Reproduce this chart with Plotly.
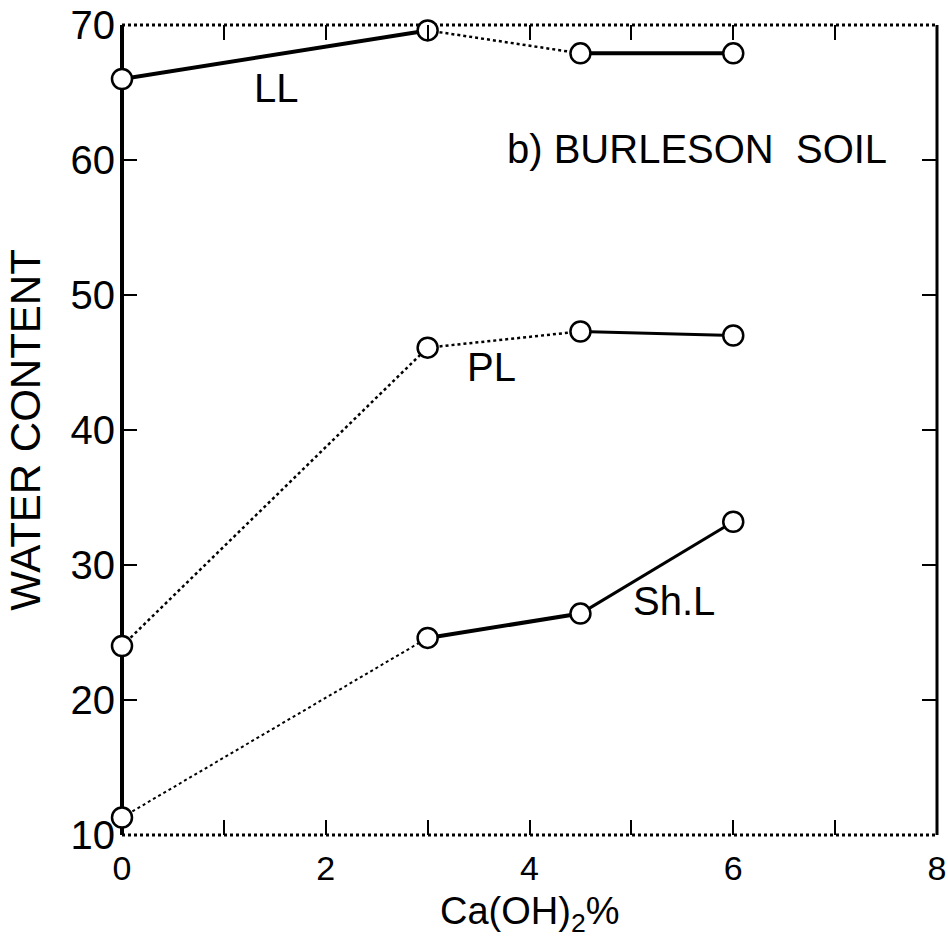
import plotly.graph_objects as go

# Lime content (Ca(OH)2 %) and the three consistency limits
lime_pct = [0, 3, 4.5, 6]
liquid_limit = [66.0, 69.6, 67.9, 67.9]
plastic_limit = [24.0, 46.1, 47.3, 47.0]
shrinkage_limit = [11.3, 24.6, 26.4, 33.2]

x_tick_vals = [0, 2, 4, 6, 8]
y_tick_vals = [10, 20, 30, 40, 50, 60, 70]

series_names = ["LL", "PL", "Sh.L"]
series_values = [liquid_limit, plastic_limit, shrinkage_limit]

# line style of each segment between consecutive points (dash, width)
segment_styles = [
    [("solid", 4), ("dot", 2.5), ("solid", 4)],
    [("dot", 2.5), ("dot", 2.5), ("solid", 3)],
    [("dot", 2), ("solid", 4), ("solid", 3)],
]

# label placement for each curve (data coordinates)
label_pos = [(1.52, 65.3), (3.63, 44.7), (5.42, 27.3)]

FONT = "Liberation Sans, Arial, sans-serif"

fig = go.Figure()

for values, styles in zip(series_values, segment_styles):
    for i, (dash, width) in enumerate(styles):
        fig.add_trace(go.Scatter(
            x=lime_pct[i:i + 2], y=values[i:i + 2], mode="lines",
            line=dict(color="black", width=width, dash=dash),
            showlegend=False, hoverinfo="skip",
        ))

for name, values in zip(series_names, series_values):
    fig.add_trace(go.Scatter(
        x=lime_pct, y=values, mode="markers", name=name,
        marker=dict(symbol="circle", size=20, color="white",
                    line=dict(color="black", width=2.5)),
        cliponaxis=False, showlegend=False,
    ))

for name, (lx, ly) in zip(series_names, label_pos):
    fig.add_annotation(x=lx, y=ly, xref="x", yref="y", text=name,
                       showarrow=False, font=dict(size=40, color="black", family=FONT))

fig.add_annotation(x=5.64, y=60.8, xref="x", yref="y",
                   text="b) BURLESON\u00a0\u00a0SOIL", showarrow=False,
                   font=dict(size=40, color="black", family=FONT))

# x-axis title, placed below the tick labels
fig.add_annotation(x=0.5, y=-0.097, xref="paper", yref="paper",
                   text="Ca(OH)<sub>2</sub>%", showarrow=False,
                   xanchor="center", yanchor="middle",
                   font=dict(size=38, color="black", family=FONT))

# frame: heavy solid sides, dotted top and bottom
frame = [
    dict(x0=0, x1=0, y0=0, y1=1, dash="solid", width=4),
    dict(x0=1, x1=1, y0=0, y1=1, dash="solid", width=3),
    dict(x0=0, x1=1, y0=1, y1=1, dash="dot", width=3),
    dict(x0=0, x1=1, y0=0, y1=0, dash="dot", width=3),
]
for f in frame:
    fig.add_shape(type="line", xref="paper", yref="paper",
                  x0=f["x0"], x1=f["x1"], y0=f["y0"], y1=f["y1"],
                  line=dict(color="black", width=f["width"], dash=f["dash"]),
                  layer="below")

fig.update_layout(
    width=948, height=940,
    margin=dict(l=122, r=11, t=25, b=105),
    paper_bgcolor="white", plot_bgcolor="white",
    font=dict(family=FONT, color="black", size=40),
    xaxis=dict(
        range=[0, 8], tickvals=x_tick_vals, ticks="inside", ticklen=15,
        tickwidth=2, tickcolor="black", mirror="ticks", showline=False,
        showgrid=False, zeroline=False, automargin=False,
        ticklabeloverflow="allow",
        minor=dict(dtick=1, ticks="inside", ticklen=15, tickwidth=2,
                   tickcolor="black", showgrid=False),
        tickfont=dict(size=34), ticklabelstandoff=10,
    ),
    yaxis=dict(
        range=[10, 70], tickvals=y_tick_vals, ticks="inside", ticklen=15,
        tickwidth=2, tickcolor="black", mirror="ticks", showline=False,
        showgrid=False, zeroline=False, automargin=False,
        ticklabeloverflow="allow",
        tickfont=dict(size=40), ticklabelstandoff=6,
        title=dict(text="WATER CONTENT", font=dict(size=42), standoff=16),
    ),
)

fig.write_html("out.html")
